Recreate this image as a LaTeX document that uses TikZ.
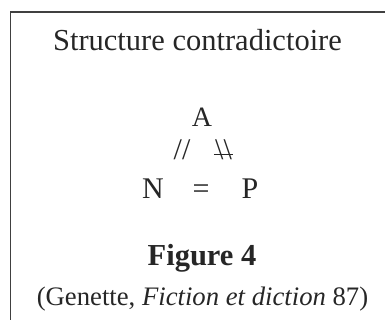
\documentclass[tikz,border=0pt]{standalone}
\usepackage{fontspec}
\setmainfont{Liberation Serif}
\begin{document}
\begin{tikzpicture}[x=1pt,y=1pt,
  txt/.style={inner sep=0pt,anchor=base,text=black!85},
  frame/.style={draw=black!75,line width=1.3pt}]
\useasboundingbox (0,0) rectangle (385,320);
\draw[frame] (10.5,-5) -- (10.5,308) -- (390,308);
\node[txt,font=\fontsize{30.5}{36}\selectfont] (title) at (197.5,269) {Structure contradictoire};
\node[txt,font=\fontsize{28}{34}\selectfont] (A) at (202,193) {A};
\node[txt,font=\fontsize{30}{34}\selectfont] (l) at (182,160) {//};
\node[txt,font=\fontsize{30}{34}\selectfont] (r) at (223.5,160) {\textbackslash\textbackslash};
\draw[black!85,line width=0.9pt] ([xshift=-1pt]r.west |- 0,166) coordinate (rb1) -- ([xshift=1pt]r.east |- 0,166) coordinate (rb2);
\node[txt,font=\fontsize{30}{36}\selectfont] (N) at (153,121) {N};
\node[txt,font=\fontsize{30}{36}\selectfont] (eq) at (201,121) {=};
\node[txt,font=\fontsize{30}{36}\selectfont] (P) at (250,121) {P};
\node[txt,font=\fontsize{30.5}{36}\selectfont\bfseries] (fig) at (202,54) {Figure 4};
\node[txt,font=\fontsize{26.7}{32}\selectfont] (cite) at (202.5,14) {(Genette, \textit{Fiction et diction} 87)};
\end{tikzpicture}
\end{document}
